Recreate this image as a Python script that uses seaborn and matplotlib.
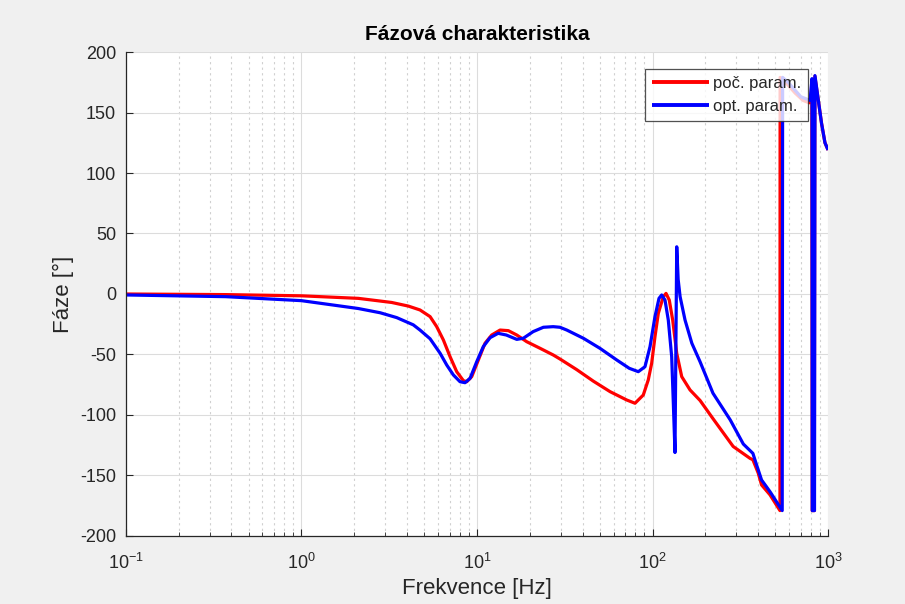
import numpy as np
import pandas as pd
import matplotlib
matplotlib.use("Agg")
import matplotlib.pyplot as plt
import seaborn as sns
from matplotlib.ticker import LogLocator, NullFormatter

# ---- data ----
red_f = [0.1, 0.37, 1, 2.11, 3.27, 4.07, 4.74, 5.41, 5.9, 6.44, 7.03, 7.67, 8.37, 8.75, 9.34,
         10.19, 11.12, 12.14, 13.54, 15.1, 16.86, 19.2, 22.9, 27.2, 29.7, 37, 46, 57.3, 71.3,
         79.5, 88.6, 94.6, 98.9, 103.3, 107.9, 115.2, 119.4, 124.6, 130.3, 137.4, 146.7,
         163.6, 186.6, 221, 288, 359, 373, 400, 418, 467, 532, 533, 580, 650, 720, 780, 800,
         808, 812, 835, 841, 880, 918, 960, 1000]
red_phase = [0, -0.5, -1.5, -3.6, -7, -10, -13.2, -18.7, -27, -38, -51.8, -64.2, -71.6, -72.5,
             -68.3, -54.5, -40.7, -33.9, -29.8, -30.3, -33.9, -39.4, -44.9, -50.4, -53.7,
             -62.5, -72, -80.7, -87.6, -90.3, -83.5, -71, -57.3, -35.3, -16, -2.2, 0.5, -5,
             -21.5, -49, -68.3, -79.3, -88, -103, -126, -135.8, -137, -148, -157.8, -166,
             -179, 179, 174, 166, 160, 158, 162, 175, -179, -179, 180, 160, 141, 125, 119]

blue_f = [0.1, 0.37, 1, 2.11, 2.81, 3.49, 4.34, 4.74, 5.41, 6.17, 6.73, 7.34, 8.01, 8.55, 9.14,
          9.97, 10.87, 11.88, 13.2, 14.7, 16.86, 18.37, 20.9, 23.9, 27.2, 29.7, 32.5, 40.4,
          50.2, 62.5, 73.7, 83, 90.6, 96.8, 103.3, 108.9, 112.8, 117.8, 123, 128.6, 131.4,
          134.3, 137.4, 140, 143.6, 153.2, 167.5, 186.6, 221, 277, 329, 373, 389, 418, 467,
          548, 551, 600, 700, 790, 810, 813, 837, 842, 880, 918, 960, 1000]
blue_phase = [-0.8, -2.2, -5.5, -12, -15.5, -19.5, -25.5, -29.8, -37, -49, -58.7, -66.9, -72.5,
              -73.3, -69.7, -56, -43.5, -36.1, -32.5, -33.9, -37.5, -36.6, -31.1, -27.5, -27,
              -27.5, -29.8, -36.6, -44.9, -54.5, -61.4, -64.2, -60.1, -43.5, -18.7, -3.6,
              -0.8, -5, -21.5, -51.8, -90, -131, 39, 12, -2.2, -21.5, -40.7, -56, -82, -104,
              -124, -131.7, -140, -153.7, -163.4, -179, 179, 174, 163, 160, 178, -179, -179,
              180.5, 160, 141, 125, 119]

series_labels = ["poč. param.", "opt. param."]
x_ticks = [0.1, 1, 10, 100, 1000]
y_ticks = [-200, -150, -100, -50, 0, 50, 100, 150, 200]

df = pd.concat([
    pd.DataFrame({"f": red_f, "phase": red_phase, "series": series_labels[0]}),
    pd.DataFrame({"f": blue_f, "phase": blue_phase, "series": series_labels[1]}),
], ignore_index=True)

sns.set_style("white")
plt.rcParams["font.family"] = ["Liberation Sans", "DejaVu Sans"]
plt.rcParams["axes.unicode_minus"] = False

fig = plt.figure(figsize=(9.05, 6.04), dpi=100, facecolor="#f0f0f0")
ax = fig.add_axes([0.139, 0.1126, 0.776, 0.8013])
ax.set_facecolor("white")

sns.lineplot(data=df, x="f", y="phase", hue="series", palette=["#ff0000", "#0000ff"],
             sort=False, estimator=None, linewidth=2.3, ax=ax)
for ln in ax.get_lines():
    ln.set_solid_joinstyle("round")
    ln.set_solid_capstyle("butt")

ax.set_xscale("log")
ax.set_xlim(0.1, 1000)
ax.set_ylim(-200, 200)
ax.set_xticks(x_ticks)
ax.xaxis.set_minor_locator(LogLocator(base=10, subs=np.arange(2, 10), numticks=20))
ax.xaxis.set_minor_formatter(NullFormatter())
ax.set_yticks(y_ticks)

ax.grid(True, which="major", color="#dcdcdc", linewidth=0.8, linestyle="-")
ax.grid(True, which="minor", axis="x", color="#d0d0d0", linewidth=0.8, linestyle=(0, (2, 3)))
ax.set_axisbelow(True)

for s in ["top", "right"]:
    ax.spines[s].set_visible(False)
for s in ["left", "bottom"]:
    ax.spines[s].set_color("#262626")
    ax.spines[s].set_linewidth(0.9)

ax.tick_params(axis="both", which="both", direction="in", colors="#262626",
               labelsize=13, left=True, bottom=True)
ax.tick_params(axis="both", which="major", length=5, width=0.8)
ax.tick_params(axis="x", which="minor", length=3, width=0.6)
ax.tick_params(axis="x", which="major", pad=12)
ax.tick_params(axis="y", which="major", pad=7)

ax.set_xlabel("Frekvence [Hz]", fontsize=16, color="#262626", labelpad=4)
ax.set_ylabel("Fáze [°]", fontsize=16, color="#262626", labelpad=4)
ax.set_title("Fázová charakteristika", fontsize=15, fontweight="bold", color="black", pad=9)

leg = ax.legend(loc="upper right", bbox_to_anchor=(0.971, 0.965), frameon=True,
                fontsize=12, handlelength=3.4, handletextpad=0.25, borderpad=0.4,
                labelspacing=0.5, fancybox=False, borderaxespad=0)
leg.get_frame().set_edgecolor("#262626")
leg.get_frame().set_linewidth(0.9)
for line in leg.get_lines():
    line.set_linewidth(2.8)

fig.savefig("out.png", dpi=100, facecolor=fig.get_facecolor())
